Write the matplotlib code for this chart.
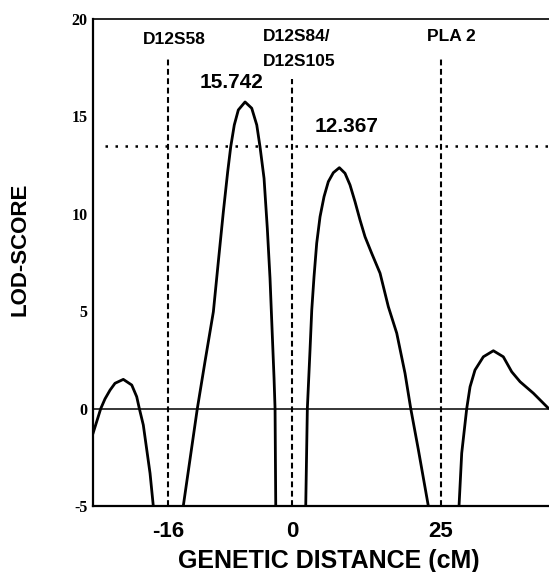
import numpy as np
import matplotlib
matplotlib.use("Agg")
import matplotlib.pyplot as plt

# LOD-score curves, x in cM
x_left = [-25.7, -25.51, -24.68, -24.13, -23.48, -22.84, -21.77, -20.68, -20.04, -19.70, -19.19, -18.32, -17.90]
y_left = [-1.3, -1.06, 0.0, 0.5, 0.95, 1.30, 1.50, 1.21, 0.61, 0.0, -0.84, -3.32, -5.0]

x_main = [-14.03, -12.22, -11.23, -10.15, -9.51, -8.86, -8.30, -7.91, -7.45, -6.93, -6.06,
          -5.20, -4.55, -4.13, -3.61, -3.19, -2.84, -2.58, -2.32, -2.19, -2.10]
y_main = [-5.0, 0.0, 2.41, 4.97, 7.54, 10.11, 12.16, 13.44, 14.56, 15.33, 15.742,
          15.42, 14.56, 13.44, 11.82, 9.26, 6.69, 4.12, 1.56, 0.0, -5.0]

x_second = [2.30, 2.57, 3.02, 3.31, 3.69, 4.14, 4.70, 5.37, 6.09, 6.93, 7.94, 8.89, 9.73,
            10.57, 11.41, 12.25, 13.37, 14.77, 16.16, 17.57, 18.96, 19.92, 21.19, 22.87]
y_second = [-5.0, 0.0, 3.01, 5.06, 6.77, 8.49, 9.85, 10.88, 11.65, 12.11, 12.367, 12.08, 11.48,
            10.62, 9.68, 8.82, 7.97, 6.95, 5.23, 3.87, 1.81, 0.0, -2.10, -5.0]

x_right = [28.02, 28.47, 29.31, 29.87, 30.70, 32.10, 33.78, 35.45, 36.86, 38.26, 40.49, 43.0]
y_right = [-5.0, -2.29, 0.0, 1.12, 1.98, 2.66, 2.97, 2.66, 1.89, 1.38, 0.79, 0.02]

# marker positions (cM) and names
markers = [-16, 0, 25]
marker_tops = [18.05, 16.92, 18.05]
threshold = 13.5
peak_labels = ["15.742", "12.367"]

# the printed x axis is not to scale on both sides of 0
xp = [-40, -16, 0, 25, 60]
fp = [168 - 24 * 7.75, 168, 292, 441, 441 + 35 * 5.96]

def fwd(x):
    return np.interp(x, xp, fp)

def inv(p):
    return np.interp(p, fp, xp)

sans = "Liberation Sans"

fig = plt.figure(figsize=(5.49, 5.72), dpi=100)
ax = fig.add_axes([93 / 549, 1 - 506 / 572, 1 - 93 / 549 + 0.002, (506 - 19) / 572])
ax.set_xscale("function", functions=(fwd, inv))
ax.set_xlim(-25.68, 43.3)
ax.set_ylim(-5, 20)

for xs, ys in [(x_left, y_left), (x_main, y_main), (x_second, y_second), (x_right, y_right)]:
    ax.plot(xs, ys, color="black", lw=2.0, solid_joinstyle="round", solid_capstyle="round")

ax.axhline(0, color="black", lw=1.1)
ax.plot([-24.1, 43.3], [threshold, threshold], color="black", lw=1.8, linestyle=(0, (1, 3)))

for m, top in zip(markers, marker_tops):
    ax.plot([m, m], [-5, top], color="black", lw=1.5, linestyle=(0, (2.8, 1.7)))

ax.text(-15.2, 18.97, "D12S58", ha="center", va="center", fontsize=12.5, fontweight="bold", family=sans)
ax.text(-3.74, 19.08, "D12S84/", ha="left", va="center", fontsize=12.5, fontweight="bold", family=sans)
ax.text(-3.74, 17.84, "D12S105", ha="left", va="center", fontsize=12.5, fontweight="bold", family=sans)
ax.text(26.68, 19.08, "PLA 2", ha="center", va="center", fontsize=12.5, fontweight="bold", family=sans)
ax.text(-7.74, 16.72, peak_labels[0], ha="center", va="center", fontsize=15, fontweight="bold", family=sans)
ax.text(9.23, 14.46, peak_labels[1], ha="center", va="center", fontsize=15, fontweight="bold", family=sans)

ax.set_xticks(markers)
ax.set_xticklabels(["-16", "0", "25"], fontsize=16, fontweight="bold", family=sans)
ax.set_yticks([-5, 0, 5, 10, 15, 20])
ax.set_yticklabels(["-5", "0", "5", "10", "15", "20"], fontsize=11.5, fontweight="bold",
                   family="Liberation Serif")
ax.tick_params(axis="x", length=0, pad=11)
ax.tick_params(axis="y", length=0, pad=4)
ax.minorticks_off()

ax.spines["right"].set_visible(False)
ax.spines["left"].set_linewidth(1.6)
ax.spines["bottom"].set_linewidth(1.6)
ax.spines["top"].set_linewidth(1.2)

fig.text(329 / 549, 1 - 561 / 572, "GENETIC DISTANCE (cM)", ha="center", va="center",
         fontsize=18, fontweight="bold", family=sans)
fig.text(20 / 549, 1 - 249 / 572, "LOD-SCORE", ha="center", va="center", rotation=90,
         fontsize=16, fontweight="bold", family=sans)

fig.savefig("out.png", dpi=100)
